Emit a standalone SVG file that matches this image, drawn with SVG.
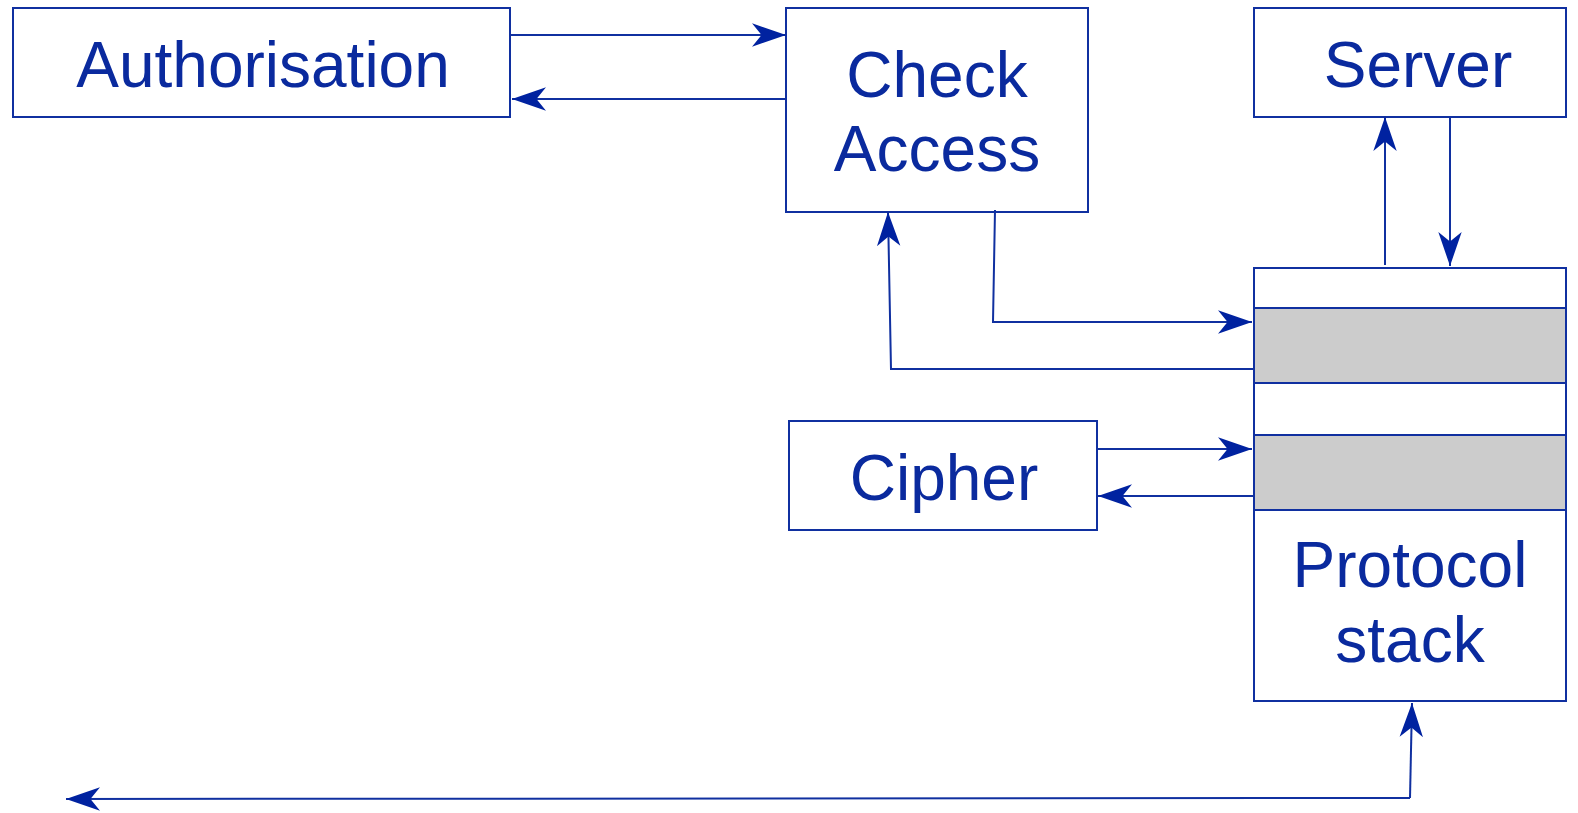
<svg xmlns="http://www.w3.org/2000/svg" width="1578" height="813" viewBox="0 0 1578 813">
<style>
.box{fill:#fff;stroke:#1030a0;stroke-width:2}
.band{fill:#cccccc;stroke:#1030a0;stroke-width:2}
.lbl{font-family:"Liberation Sans",Arial,sans-serif;font-size:64px;fill:#0a2a9e;text-anchor:middle}
.c{fill:none;stroke:#1030a0;stroke-width:2;marker-end:url(#ah)}
</style>
<defs>
<marker id="ah" markerUnits="userSpaceOnUse" markerWidth="34" markerHeight="26" viewBox="0 0 32 24" refX="32" refY="12" orient="auto">
<path d="M0,1 L32,12 L0,23 L9,12 Z" fill="#0022a0"/>
</marker>
</defs>
<rect width="1578" height="813" fill="#fff"/>
<g id="authorisation"><rect class="box" x="13" y="8" width="497" height="109"/><text class="lbl" x="263" y="87">Authorisation</text></g>
<g id="check-access"><rect class="box" x="786" y="8" width="302" height="204"/><text class="lbl" x="937" y="97">Check</text><text class="lbl" x="937" y="171">Access</text></g>
<g id="server"><rect class="box" x="1254" y="8" width="312" height="109"/><text class="lbl" x="1418" y="87">Server</text></g>
<g id="protocol-stack"><rect class="box" x="1254" y="268" width="312" height="433"/><rect class="band" x="1254" y="308" width="312" height="75"/><rect class="band" x="1254" y="435" width="312" height="75"/><text class="lbl" x="1410" y="587">Protocol</text><text class="lbl" x="1410" y="662">stack</text></g>
<g id="cipher"><rect class="box" x="789" y="421" width="308" height="109"/><text class="lbl" x="944" y="500">Cipher</text></g>
<g id="connectors">
<path class="c" d="M510,35 H786"/>
<path class="c" d="M786,99 H512"/>
<path class="c" d="M995,210 L993,322 H1252"/>
<path class="c" d="M1254,369 H891 L888,212"/>
<path class="c" d="M1385,265 V117"/>
<path class="c" d="M1450,117 V266"/>
<path class="c" d="M1097,449 H1252"/>
<path class="c" d="M1254,496 H1098"/>
<path class="c" d="M1410,798 L1412,703"/>
<path class="c" d="M1410,798 L66,799"/>
</g>
</svg>
